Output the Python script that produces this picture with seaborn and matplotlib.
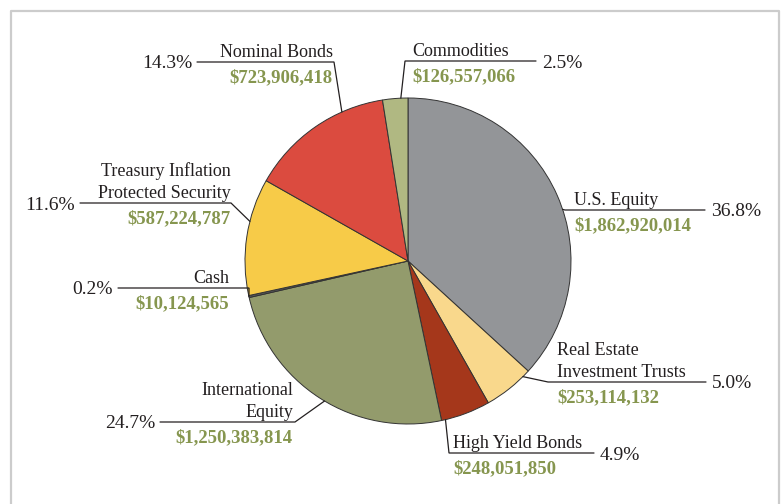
import numpy as np
import seaborn as sns
import matplotlib.pyplot as plt

# data, clockwise from 12 o'clock
assetNames = [
    "U.S. Equity",
    "Real Estate\nInvestment Trusts",
    "High Yield Bonds",
    "International\nEquity",
    "Cash",
    "Treasury Inflation\nProtected Security",
    "Nominal Bonds",
    "Commodities",
]
assetValues = [1862920014, 253114132, 248051850, 1250383814, 10124565, 587224787, 723906418, 126557066]
assetPercents = [36.8, 5.0, 4.9, 24.7, 0.2, 11.6, 14.3, 2.5]
sliceColors = ["#939598", "#F9D88C", "#A5371B", "#939B6C", "#58595B", "#F7CB48", "#DB4B3F", "#B0B882"]

figWidth, figHeight = 781, 504
pieCenter = (408, 261)
pieRadius = 163

textDark = "#231F20"
moneyGreen = "#86964F"

# label layout in pixel coords (y from top): where on the wedge the leader starts (0..1),
# knee point, far end of the horizontal line, text x
labelLayout = {
    "U.S. Equity" : dict(frac = 0.46, knee = (565, 210), lineEnd = 705, textX = 574),
    "Real Estate\nInvestment Trusts" : dict(frac = 0.85, knee = (548, 382), lineEnd = 706, textX = 557),
    "High Yield Bonds" : dict(frac = 0.08, knee = (449, 453), lineEnd = 594, textX = 453),
    "International\nEquity" : dict(frac = 0.52, knee = (295, 422), lineEnd = 160, textX = 293),
    "Cash" : dict(frac = 0.5, knee = (249, 288), lineEnd = 118, textX = 229),
    "Treasury Inflation\nProtected Security" : dict(frac = 0.37, knee = (231, 203), lineEnd = 80, textX = 231),
    "Nominal Bonds" : dict(frac = 0.29, knee = (334, 62), lineEnd = 197, textX = 333),
    "Commodities" : dict(frac = 0.28, knee = (405, 61), lineEnd = 536, textX = 412),
}


def toData(xPix, yPix) :
    return xPix, figHeight - yPix


sns.set_theme(style = "white")
plt.rcParams["font.family"] = ["Liberation Serif", "DejaVu Serif"]

fig = plt.figure(figsize = (figWidth / 100, figHeight / 100), dpi = 100)
ax = fig.add_axes([0, 0, 1, 1])

centerX, centerY = toData(*pieCenter)
wedges, _ = ax.pie(
    assetValues,
    colors = sns.color_palette(sliceColors),
    startangle = 90,
    counterclock = False,
    center = (centerX, centerY),
    radius = pieRadius,
    wedgeprops = dict(edgecolor = "#333333", linewidth = 0.7),
    frame = True,
)
ax.set_xlim(0, figWidth)
ax.set_ylim(0, figHeight)
ax.set_aspect("equal")
ax.axis("off")

for wedge, name, value, pct in zip(wedges, assetNames, assetValues, assetPercents) :
    layout = labelLayout[name]
    anchorAngle = np.deg2rad(wedge.theta1 + layout["frac"] * (wedge.theta2 - wedge.theta1))
    anchorX = centerX + pieRadius * np.cos(anchorAngle)
    anchorY = centerY + pieRadius * np.sin(anchorAngle)
    kneeX, kneeY = toData(*layout["knee"])
    endX = layout["lineEnd"]
    ax.plot([anchorX, kneeX, endX], [anchorY, kneeY, kneeY], color = textDark, linewidth = 0.9,
            solid_joinstyle = "miter")

    onRight = endX > kneeX
    textAlign = "left" if onRight else "right"
    ax.text(layout["textX"], kneeY + 1, name, ha = textAlign, va = "bottom", fontsize = 13,
            color = textDark, linespacing = 1.4)
    ax.text(layout["textX"], kneeY - 7, f"${value:,}", ha = textAlign, va = "top", fontsize = 13.5,
            fontweight = "bold", color = moneyGreen)
    pctX = endX + 6 if onRight else endX - 5
    ax.text(pctX, kneeY - 2, f"{pct:.1f}%", ha = textAlign, va = "center", fontsize = 14,
            color = textDark)

# light grey frame, open at the bottom
frameX = [10.5, 10.5, 779, 779]
frameY = [0, figHeight - 10.5, figHeight - 10.5, 0]
ax.plot(frameX, frameY, color = "#CCCCCC", linewidth = 1.6)

fig.savefig("out.png", dpi = 100)
